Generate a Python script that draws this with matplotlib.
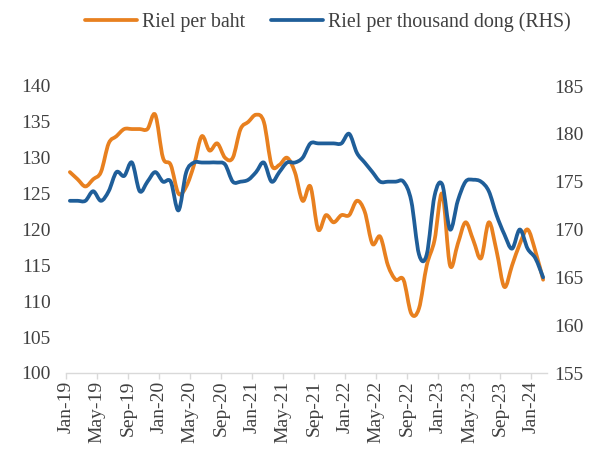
import matplotlib
matplotlib.use("Agg")
import matplotlib.pyplot as plt
from matplotlib.path import Path
from matplotlib.patches import PathPatch
from matplotlib.lines import Line2D
import matplotlib.transforms as mtransforms
import numpy as np
import pandas as pd

# ---------------- data ----------------
months = list(pd.date_range("2019-01-01", periods=62, freq="MS").strftime("%b-%y"))

riel_per_baht = [128, 127, 126, 127, 128, 132, 133, 134, 134, 134, 134, 136,
                 130, 129, 125, 126, 129, 133, 131, 132, 130, 130, 134, 135,
                 136, 135, 129, 129, 130, 128, 124, 126, 120, 122, 121, 122,
                 122, 124, 122.5, 118, 119, 115, 113, 113, 108.3, 109, 115, 118.5,
                 125, 115, 118, 121, 118.5, 116, 121, 117, 112, 115, 118, 120,
                 117, 113]

riel_per_k_dong = [173, 173, 173, 174, 173, 174, 176, 175.6, 177, 174, 175, 176,
                   175, 175, 172, 176, 177, 177, 177, 177, 176.8, 175, 175, 175.2,
                   176, 177, 175, 176, 177, 177, 177.5, 179, 179, 179, 179, 179,
                   180, 178, 177, 176, 175, 175, 175, 175, 173, 167.4, 167.4, 173.5,
                   174.7, 170, 173, 175, 175.2, 175, 174, 171.5, 169.5, 168, 170, 168,
                   167, 165]

tick_labels = ["Jan-19", "May-19", "Sep-19", "Jan-20", "May-20", "Sep-20", "Jan-21",
               "May-21", "Sep-21", "Jan-22", "May-22", "Sep-22", "Jan-23", "May-23",
               "Sep-23", "Jan-24"]

left_ticks = [100, 105, 110, 115, 120, 125, 130, 135, 140]
right_ticks = [155, 160, 165, 170, 175, 180, 185]

series_names = ["Riel per baht", "Riel per thousand dong (RHS)"]

# ---------------- style ----------------
ORANGE = "#E8801F"
BLUE = "#1F5E99"
TEXT = "#404040"
FONT = ["Liberation Serif", "DejaVu Serif"]
FS = 14
LFS = 14.4
LW = 2.7

plt.rcParams["font.family"] = FONT


def smooth_path(xs, ys):
    """Excel-like smoothed line as cubic Bezier path (control points from neighbours)."""
    xs = np.asarray(xs, float)
    ys = np.asarray(ys, float)
    n = len(xs)
    verts = [(xs[0], ys[0])]
    codes = [Path.MOVETO]
    for i in range(n - 1):
        i0 = max(i - 1, 0)
        i3 = min(i + 2, n - 1)
        c1 = (xs[i] + (xs[i + 1] - xs[i0]) / 6.0, ys[i] + (ys[i + 1] - ys[i0]) / 6.0)
        c2 = (xs[i + 1] - (xs[i3] - xs[i]) / 6.0, ys[i + 1] - (ys[i3] - ys[i]) / 6.0)
        verts += [c1, c2, (xs[i + 1], ys[i + 1])]
        codes += [Path.CURVE4] * 3
    return Path(verts, codes)


fig = plt.figure(figsize=(5.96, 4.49), dpi=100)
ax = fig.add_axes([66 / 596, 1 - 373 / 449, (547 - 66) / 596, (373 - 86) / 449])
ax2 = ax.twinx()

x = np.arange(len(months))

ax.add_patch(PathPatch(smooth_path(x, riel_per_baht), fill=False, edgecolor=ORANGE,
                       lw=LW, capstyle="round", joinstyle="round"))
ax2.add_patch(PathPatch(smooth_path(x, riel_per_k_dong), fill=False, edgecolor=BLUE,
                        lw=LW, capstyle="round", joinstyle="round"))

ax.set_xlim(-0.5, len(months) - 0.5)
ax.set_ylim(100, 140)
ax2.set_ylim(155, 185)

tick_pos = [months.index(t) - 0.5 for t in tick_labels]
ax.set_xticks(tick_pos)
ax.set_xticklabels(tick_labels, rotation=90, fontsize=FS, color=TEXT)
shift = mtransforms.ScaledTranslation(3 / 100, 0, fig.dpi_scale_trans)
for lab in ax.get_xticklabels():
    lab.set_transform(lab.get_transform() + shift)
ax.set_yticks(left_ticks)
ax.set_yticklabels([str(v) for v in left_ticks], fontsize=FS, color=TEXT)
ax2.set_yticks(right_ticks)
ax2.set_yticklabels([str(v) for v in right_ticks], fontsize=FS, color=TEXT)

for a in (ax, ax2):
    for s in ("top", "left", "right", "bottom"):
        a.spines[s].set_visible(False)
ax.spines["bottom"].set_visible(True)
ax.spines["bottom"].set_color("#D9D9D9")
ax.spines["bottom"].set_linewidth(1.0)

ax.tick_params(axis="x", length=4.5, width=1.0, color="#D9D9D9", pad=1)
ax.tick_params(axis="y", length=0, pad=11)
ax2.tick_params(axis="y", length=0, pad=5)

handles = [Line2D([], [], color=ORANGE, lw=LW, solid_capstyle="round"),
           Line2D([], [], color=BLUE, lw=LW, solid_capstyle="round")]
leg = fig.legend(handles, series_names, loc="center", bbox_to_anchor=(328 / 596, 1 - 22 / 449),
                 ncol=2, frameon=False, fontsize=LFS, handlelength=2.6, handletextpad=0.25,
                 columnspacing=1.3)
for t in leg.get_texts():
    t.set_color(TEXT)

fig.savefig("out.png", dpi=100)
